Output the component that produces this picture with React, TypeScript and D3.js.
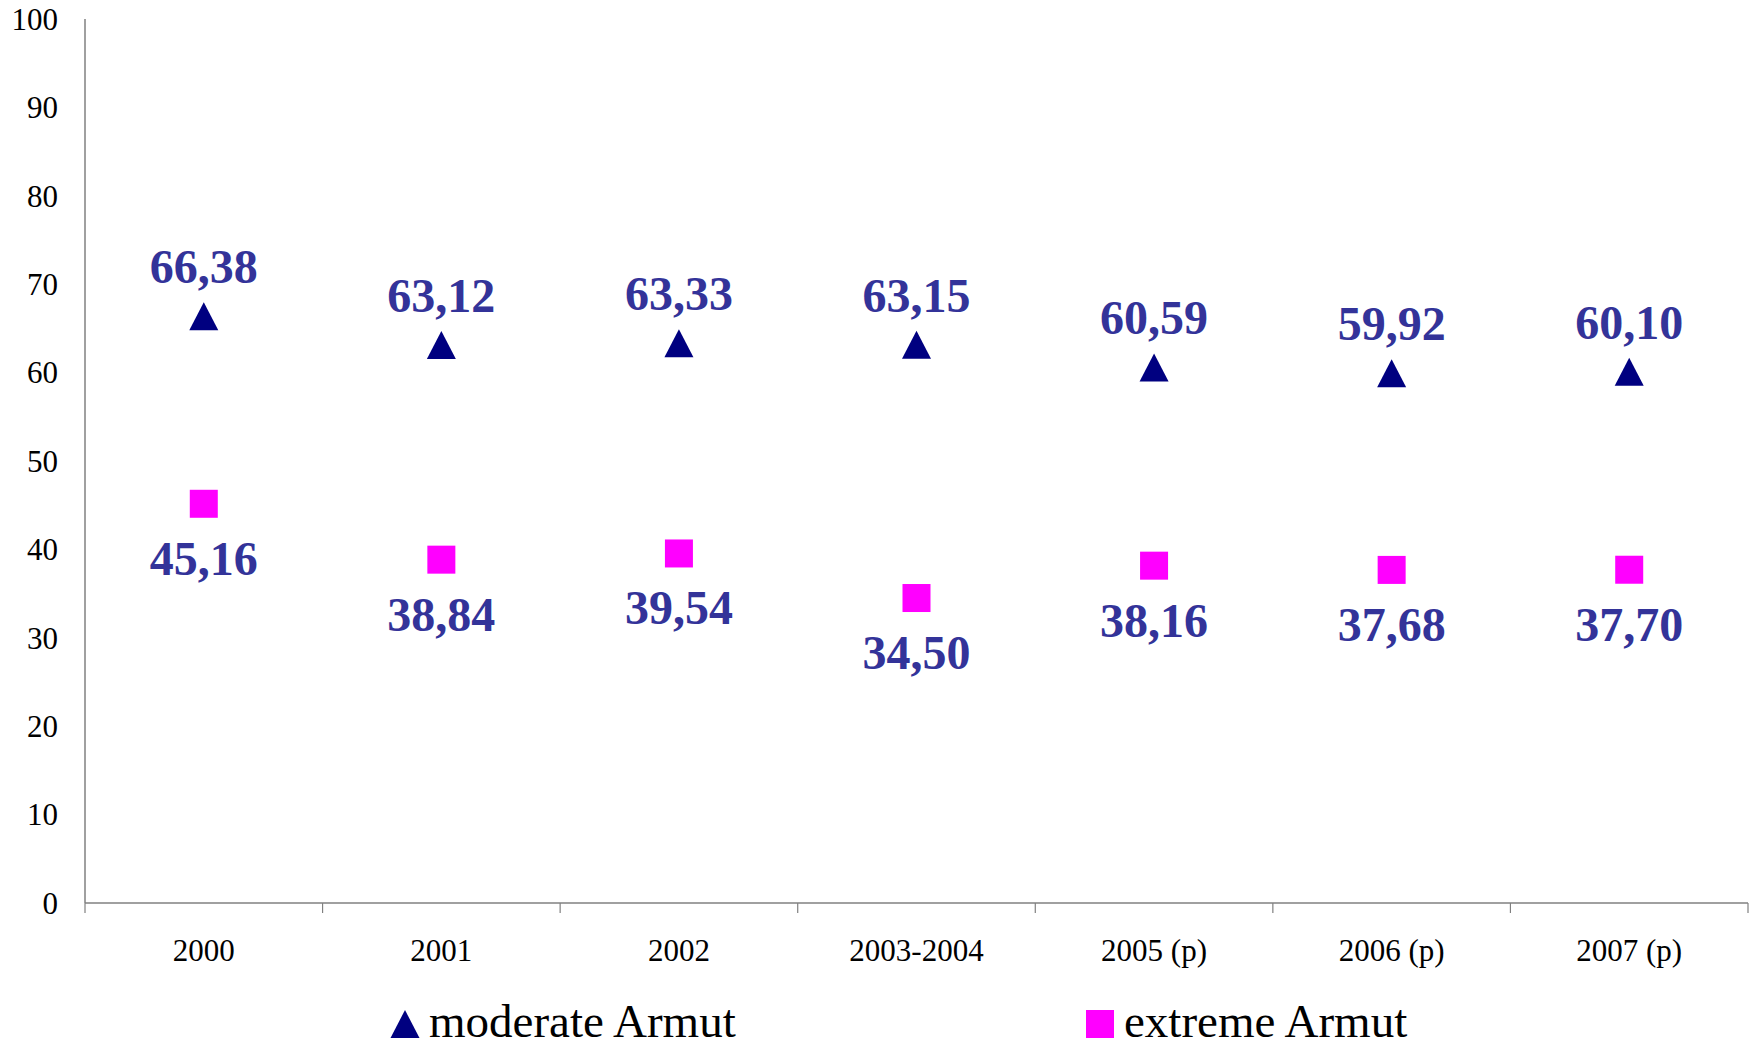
import React, { useEffect, useRef } from 'react';
import * as d3 from 'd3';

const categories = ['2000', '2001', '2002', '2003-2004', '2005 (p)', '2006 (p)', '2007 (p)'];
const moderate = [66.38, 63.12, 63.33, 63.15, 60.59, 59.92, 60.1];
const extreme = [45.16, 38.84, 39.54, 34.5, 38.16, 37.68, 37.7];
const yTicks = [0, 10, 20, 30, 40, 50, 60, 70, 80, 90, 100];
const seriesNames = ['moderate Armut', 'extreme Armut'];

const App = () => {
  const ref = useRef<SVGSVGElement>(null);

  useEffect(() => {
    const width = 1755;
    const height = 1048;
    const margin = { top: 19, right: 7, bottom: 145, left: 85 };
    const font = '"Liberation Serif", "Times New Roman", serif';

    const svg = d3.select(ref.current).attr('width', width).attr('height', height);
    svg.selectAll('*').remove();

    const x = d3
      .scaleBand()
      .domain(categories)
      .range([margin.left, width - margin.right]);

    const y = d3
      .scaleLinear()
      .domain([0, 100])
      .range([height - margin.bottom, margin.top]);

    // y axis: plain line, labels, no ticks
    svg
      .append('line')
      .attr('x1', margin.left)
      .attr('x2', margin.left)
      .attr('y1', y(100))
      .attr('y2', y(0))
      .attr('stroke', '#808080')
      .attr('stroke-width', 1.5);

    svg
      .selectAll('.ylab')
      .data(yTicks)
      .enter()
      .append('text')
      .attr('class', 'ylab')
      .attr('x', margin.left - 27)
      .attr('y', (d) => y(d))
      .attr('dy', '0.35em')
      .attr('text-anchor', 'end')
      .style('font-family', font)
      .style('font-size', '31px')
      .text((d) => d);

    // x axis
    const xAxis = svg
      .append('g')
      .attr('transform', `translate(0, ${y(0)})`);
    xAxis
      .append('line')
      .attr('x1', margin.left)
      .attr('x2', width - margin.right)
      .attr('stroke', '#808080')
      .attr('stroke-width', 1.5);
    const bounds = categories.map((c) => x(c) as number).concat([x.range()[1]]);
    xAxis
      .selectAll('.tick')
      .data(bounds)
      .enter()
      .append('line')
      .attr('x1', (d) => d)
      .attr('x2', (d) => d)
      .attr('y1', 0)
      .attr('y2', 10)
      .attr('stroke', '#808080')
      .attr('stroke-width', 1.2);
    xAxis
      .selectAll('.xlab')
      .data(categories)
      .enter()
      .append('text')
      .attr('x', (d) => (x(d) as number) + x.bandwidth() / 2)
      .attr('y', 58)
      .attr('text-anchor', 'middle')
      .style('font-family', font)
      .style('font-size', '31px')
      .text((d) => d);

    const fmt = (v: number) => d3.format('.2f')(v).replace('.', ',');
    const cx = (i: number) => (x(categories[i]) as number) + x.bandwidth() / 2;
    const tri = (px: number, py: number, w: number, h: number) =>
      `M${px - w / 2},${py + h / 2}L${px},${py - h / 2}L${px + w / 2},${py + h / 2}Z`;

    // moderate series: triangles, labels above
    svg
      .selectAll('.tri')
      .data(moderate)
      .enter()
      .append('path')
      .attr('d', (d, i) => tri(cx(i), y(d), 29, 28))
      .attr('fill', '#000080');
    svg
      .selectAll('.modlab')
      .data(moderate)
      .enter()
      .append('text')
      .attr('x', (d, i) => cx(i))
      .attr('y', (d) => y(d) - 33)
      .attr('text-anchor', 'middle')
      .style('font-family', font)
      .style('font-size', '48px')
      .style('font-weight', 'bold')
      .style('fill', '#333399')
      .text((d) => fmt(d));

    // extreme series: squares, labels below
    svg
      .selectAll('.sq')
      .data(extreme)
      .enter()
      .append('rect')
      .attr('x', (d, i) => cx(i) - 14)
      .attr('y', (d) => y(d) - 14)
      .attr('width', 28)
      .attr('height', 28)
      .attr('fill', '#FF00FF');
    svg
      .selectAll('.extlab')
      .data(extreme)
      .enter()
      .append('text')
      .attr('x', (d, i) => cx(i))
      .attr('y', (d) => y(d) + 71)
      .attr('text-anchor', 'middle')
      .style('font-family', font)
      .style('font-size', '48px')
      .style('font-weight', 'bold')
      .style('fill', '#333399')
      .text((d) => fmt(d));

    // legend
    const legendX = [391, 1086];
    const legend = svg.append('g').attr('transform', `translate(0, 1024)`);
    legend
      .append('path')
      .attr('d', tri(legendX[0] + 14, 0, 29, 28))
      .attr('fill', '#000080');
    legend
      .append('rect')
      .attr('x', legendX[1])
      .attr('y', -14)
      .attr('width', 28)
      .attr('height', 28)
      .attr('fill', '#FF00FF');
    legend
      .selectAll('.legtext')
      .data(seriesNames)
      .enter()
      .append('text')
      .attr('x', (d, i) => legendX[i] + 38)
      .attr('y', 13)
      .style('font-family', font)
      .style('font-size', '47px')
      .text((d) => d);
  }, []);

  return <svg ref={ref} style={{ position: 'absolute', left: 0, top: 0 }}></svg>;
};

export default App;
